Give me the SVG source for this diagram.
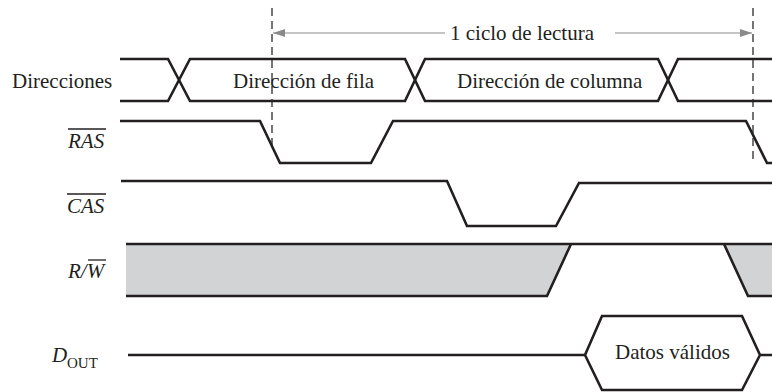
<svg xmlns="http://www.w3.org/2000/svg" width="772" height="392" viewBox="0 0 772 392">
<style>
.sig{fill:none;stroke:#231f20;stroke-width:2.6;stroke-linejoin:miter}
.lbl{font-family:"Liberation Serif",serif;font-size:21px;fill:#231f20}
.it{font-style:italic}
.dash{fill:none;stroke:#3a3a3a;stroke-width:1.4;stroke-dasharray:8 5}
.arr{fill:none;stroke:#8a8a8a;stroke-width:1.2}
.ol{stroke:#231f20;stroke-width:1.3}
</style>
<defs>
<marker id="ah" viewBox="0 0 12 8" refX="12" refY="4" markerWidth="12" markerHeight="8" markerUnits="userSpaceOnUse" orient="auto-start-reverse">
<path d="M0,0 L12,4 L0,8 Z" fill="#8a8a8a"/>
</marker>
</defs>
<rect width="772" height="392" fill="#fff"/>
<g id="connectors">
<line class="dash" x1="272" y1="8" x2="272" y2="146"/>
<line class="dash" x1="753" y1="8" x2="753" y2="164"/>
<line class="arr" x1="273" y1="33" x2="445" y2="33" marker-start="url(#ah)"/>
<line class="arr" x1="615" y1="33" x2="752" y2="33" marker-end="url(#ah)"/>
<text class="lbl" x="450" y="40">1 ciclo de lectura</text>
</g>
<g id="direcciones">
<text class="lbl" x="12" y="88">Direcciones</text>
<path class="sig" d="M120,59 H168 L190,101 H405 L425,59 H658 L678,101 H772"/>
<path class="sig" d="M120,101 H168 L190,59 H405 L425,101 H658 L678,59 H772"/>
<text class="lbl" x="233" y="88">Dirección de fila</text>
<text class="lbl" x="457" y="88">Dirección de columna</text>
</g>
<g id="ras">
<text class="lbl it" x="68" y="148">RAS</text>
<line class="ol" x1="68" y1="129" x2="106" y2="129"/>
<path class="sig" d="M120,121 H260 L280,163 H371 L393,121 H746 L767,163 H772"/>
</g>
<g id="cas">
<text class="lbl it" x="67" y="213">CAS</text>
<line class="ol" x1="67" y1="194" x2="106" y2="194"/>
<path class="sig" d="M121,181 H447 L467,226 H556 L579,183 H772"/>
</g>
<g id="rw">
<path d="M126,244 H571 L547,296 H126 Z" fill="#d1d3d4"/>
<path d="M724,244 H772 V296 H748 Z" fill="#d1d3d4"/>
<path class="sig" d="M126,244 H772"/>
<path class="sig" d="M126,296 H547 L571,244"/>
<path class="sig" d="M724,244 L748,296 H772"/>
<text class="lbl it" x="68" y="278">R/W</text>
<line class="ol" x1="88" y1="260" x2="106" y2="260"/>
</g>
<g id="dout">
<text class="lbl it" x="52" y="362">D</text>
<text class="lbl" x="67" y="368" style="font-size:15px">OUT</text>
<path class="sig" d="M128,355 H585 L602,316 H742 L760,355 H772 M585,355 L602,390 H742 L760,355"/>
<text class="lbl" x="615" y="359">Datos válidos</text>
</g>
</svg>
